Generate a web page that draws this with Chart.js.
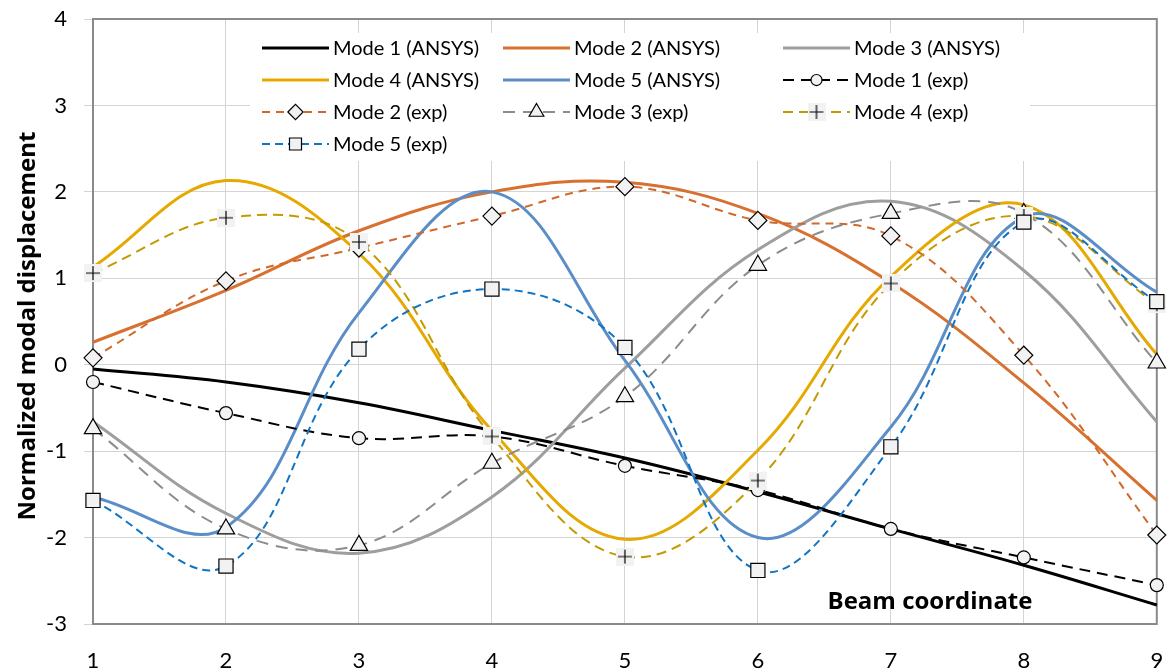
<!DOCTYPE html>
<html>
<head>
<meta charset="utf-8">
<script src="https://cdn.jsdelivr.net/npm/chart.js@4"></script>
<style>
  html, body { margin: 0; padding: 0; background: #ffffff; }
  #wrap { width: 1168px; height: 668px; }
</style>
</head>
<body>
<div id="wrap"><canvas id="c" width="1168" height="668"></canvas></div>
<script>
// ---- data ----
const categories = ['1', '2', '3', '4', '5', '6', '7', '8', '9'];
const yTicks = [-3, -2, -1, 0, 1, 2, 3, 4];

const mode1Ansys = [-0.05, -0.20, -0.44, -0.76, -1.08, -1.47, -1.90, -2.32, -2.78];
const mode2Ansys = [0.26, 0.86, 1.55, 2.00, 2.11, 1.75, 0.95, -0.21, -1.57];
const mode3Ansys = [-0.66, -1.72, -2.18, -1.53, -0.04, 1.33, 1.89, 1.09, -0.66];
const mode4Ansys = [1.13, 2.13, 1.29, -0.76, -2.02, -0.99, 1.02, 1.85, 0.12];
const mode5Ansys = [-1.53, -1.88, 0.60, 2.00, 0.05, -2.00, -0.72, 1.71, 0.84];

const mode1Exp = [-0.20, -0.56, -0.85, -0.83, -1.17, -1.45, -1.90, -2.23, -2.55];
const mode2Exp = [0.08, 0.97, 1.35, 1.72, 2.06, 1.67, 1.49, 0.11, -1.97];
const mode3Exp = [-0.74, -1.90, -2.09, -1.14, -0.37, 1.15, 1.75, 1.75, 0.02];
const mode4Exp = [1.06, 1.70, 1.42, -0.83, -2.22, -1.34, 0.94, 1.72, 0.70];
const mode5Exp = [-1.57, -2.33, 0.18, 0.875, 0.20, -2.38, -0.95, 1.65, 0.73];

const FONT = 'Lato, "Liberation Sans", sans-serif';
const TITLE_FONT = '"Open Sans", "Liberation Sans", sans-serif';

// plus marker with light grey backing square (Excel style)
function makePlus() {
  const c = document.createElement('canvas');
  c.width = 18; c.height = 18;
  const g = c.getContext('2d');
  g.fillStyle = '#f2f2f2';
  g.fillRect(0, 0, 18, 18);
  g.strokeStyle = '#000';
  g.lineWidth = 1.2;
  g.beginPath();
  g.moveTo(2, 9); g.lineTo(16, 9);
  g.moveTo(9, 2); g.lineTo(9, 16);
  g.stroke();
  return c;
}
const plusImg = makePlus();

const TENSION = 0.38;
function solid(label, data, color) {
  return { label, data, borderColor: color, backgroundColor: color, borderWidth: 3,
    pointRadius: 0, pointHoverRadius: 0, tension: TENSION, fill: false, clip: false };
}
function dashed(label, data, color, dash, style, radius) {
  return { label, data, borderColor: color, backgroundColor: color, borderWidth: 2, borderDash: dash,
    pointStyle: style, pointRadius: radius, pointHoverRadius: radius,
    pointBackgroundColor: '#f2f2f2', pointBorderColor: '#000000', pointBorderWidth: 1.2,
    tension: TENSION, fill: false, clip: false };
}

const datasets = [
  solid('Mode 1 (ANSYS)', mode1Ansys, '#000000'),
  solid('Mode 2 (ANSYS)', mode2Ansys, '#D8702F'),
  solid('Mode 3 (ANSYS)', mode3Ansys, '#9E9E9E'),
  solid('Mode 4 (ANSYS)', mode4Ansys, '#E5A900'),
  solid('Mode 5 (ANSYS)', mode5Ansys, '#5B8EC6'),
  dashed('Mode 1 (exp)', mode1Exp, '#000000', [11, 7], 'circle', 6.5),
  dashed('Mode 2 (exp)', mode2Exp, '#D0692C', [8, 6], 'rectRot', 9),
  dashed('Mode 3 (exp)', mode3Exp, '#8C8C8C', [12, 8], 'triangle', 10),
  dashed('Mode 4 (exp)', mode4Exp, '#C39B00', [10, 6], plusImg, 8),
  dashed('Mode 5 (exp)', mode5Exp, '#0F74C4', [8, 5], 'rect', 10)
];
// later series on top (like Excel)
datasets.forEach((d, i) => { d.order = datasets.length - i; });

const frame = {
  id: 'frame',
  beforeDatasetsDraw(chart) {
    const a = chart.chartArea, ctx = chart.ctx;
    ctx.save();
    ctx.strokeStyle = '#8a8a8a';
    ctx.lineWidth = 2;
    ctx.strokeRect(a.left, a.top, a.right - a.left, a.bottom - a.top);
    ctx.restore();
  }
};

const legendBox = {
  id: 'legendBox',
  afterDatasetsDraw(chart) {
    const ctx = chart.ctx;
    ctx.save();
    ctx.fillStyle = '#ffffff';
    ctx.fillRect(250, 33, 780, 128);
    const cols = [262, 503, 783];
    const lineLen = 67;
    const rows = [48, 80, 112, 144];
    ctx.font = '20px ' + FONT;
    ctx.textBaseline = 'middle';
    chart.data.datasets.forEach((d, i) => {
      const r = Math.floor(i / 3), c = i % 3;
      const x0 = cols[c], y = rows[r];
      ctx.save();
      ctx.strokeStyle = d.borderColor;
      ctx.lineWidth = d.borderWidth;
      ctx.setLineDash(d.borderDash || []);
      ctx.beginPath();
      ctx.moveTo(x0, y); ctx.lineTo(x0 + lineLen, y);
      ctx.stroke();
      ctx.restore();
      if (d.pointRadius > 0) {
        ctx.save();
        ctx.fillStyle = d.pointBackgroundColor;
        ctx.strokeStyle = d.pointBorderColor;
        ctx.lineWidth = d.pointBorderWidth;
        ctx.setLineDash([]);
        Chart.helpers.drawPoint(ctx, { pointStyle: d.pointStyle, rotation: 0, radius: d.pointRadius * 0.85, borderWidth: d.pointBorderWidth }, x0 + lineLen / 2, y);
        ctx.restore();
      }
      ctx.fillStyle = '#000000';
      ctx.fillText(d.label, x0 + lineLen + 4, y + 1);
    });
    // axis titles drawn inside / beside the plot like the reference
    ctx.fillStyle = '#000000';
    ctx.textAlign = 'center';
    ctx.textBaseline = 'middle';
    ctx.font = 'bold 24px ' + TITLE_FONT;
    ctx.fillText('Beam coordinate', 930, 602);
    ctx.font = 'bold 24px ' + TITLE_FONT;
    ctx.translate(28, 326);
    ctx.rotate(-Math.PI / 2);
    ctx.fillText('Normalized modal displacement', 0, 0);
    ctx.restore();
  }
};

new Chart(document.getElementById('c'), {
  type: 'line',
  data: { labels: categories, datasets },
  options: {
    responsive: false,
    animation: false,
    events: [],
    layout: { padding: { left: 0, top: 19, right: 4, bottom: 0 } },
    plugins: { legend: { display: false }, tooltip: { enabled: false }, title: { display: false } },
    scales: {
      x: {
        offset: false,
        grid: { color: '#d4d4d4', lineWidth: 1, drawTicks: false },
        border: { display: false },
        ticks: { font: { family: FONT, size: 22 }, color: '#000', padding: 24, maxRotation: 0, autoSkip: false },
        afterFit(s) { s.height = 44; s.paddingLeft = 0; s.paddingRight = 0; }
      },
      y: {
        min: -3, max: 4,
        afterBuildTicks(s) { s.ticks = yTicks.map(v => ({ value: v })); },
        grid: { color: '#d4d4d4', lineWidth: 1, tickLength: 9 },
        border: { display: false },
        ticks: { font: { family: FONT, size: 22 }, color: '#000', padding: 17 },
        afterFit(s) { s.width = 93; s.paddingTop = 0; s.paddingBottom = 0; }
      }
    }
  },
  plugins: [frame, legendBox]
});
</script>
</body>
</html>
